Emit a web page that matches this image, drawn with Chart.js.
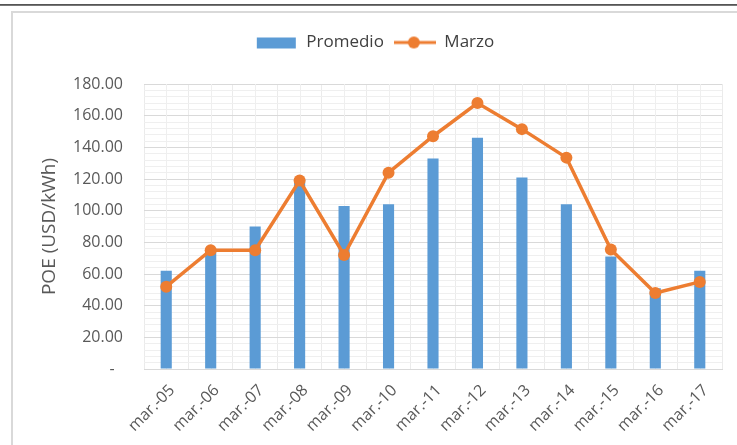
<!DOCTYPE html>
<html>
<head>
<meta charset="utf-8">
<script src="https://cdn.jsdelivr.net/npm/chart.js@4"></script>
<style>
  body { margin: 0; background: #fff; }
  #wrap { position: relative; width: 737px; height: 445px; overflow: hidden; }
  #topline { position: absolute; left: 0; top: 4px; width: 737px; height: 2px; background: linear-gradient(#444, #888); }
  #frame { position: absolute; left: 11px; top: 11px; width: 740px; height: 450px; border-left: 2px solid #d9d9d9; border-top: 2px solid #d9d9d9; }
  #poeChart { position: absolute; left: 0; top: 0; }
</style>
</head>
<body>
<div id="wrap">
  <div id="topline"></div>
  <div id="frame"></div>
  <canvas id="poeChart" width="737" height="445"></canvas>
</div>
<script>
// categorias (meses de marzo de cada año)
var categories = ['mar.-05','mar.-06','mar.-07','mar.-08','mar.-09','mar.-10','mar.-11','mar.-12','mar.-13','mar.-14','mar.-15','mar.-16','mar.-17']
// serie de barras
var promedio = [62, 75, 90, 120, 103, 104, 133, 146, 121, 104, 71, 51, 62]
// serie de linea
var marzo = [52, 75, 75, 119, 72, 124, 147, 168, 151.5, 133.5, 75.5, 48, 55]
// eje y
var yMin = 0
var yMax = 180
var yMajor = 20
var yMinor = 4

// simbolos de la leyenda
function legendGlyph(kind) {
  var c = document.createElement('canvas')
  c.width = 42
  c.height = 14
  var g = c.getContext('2d')
  if (kind === 'bar') {
    g.fillStyle = '#5b9bd5'
    g.fillRect(1, 2, 39, 11)
  } else {
    g.strokeStyle = '#ed7d31'
    g.lineWidth = 3
    g.beginPath()
    g.moveTo(0, 7)
    g.lineTo(42, 7)
    g.stroke()
    g.fillStyle = '#ed7d31'
    g.beginPath()
    g.arc(20, 7, 6, 0, Math.PI * 2)
    g.fill()
  }
  return c
}

// lineas verticales en el centro de cada categoria
var centerLines = {
  id: 'centerLines',
  beforeDatasetsDraw: function (chart) {
    var x = chart.scales.x
    var a = chart.chartArea
    var ctx = chart.ctx
    ctx.save()
    ctx.strokeStyle = '#efefef'
    ctx.lineWidth = 1
    for (var i = 0; i < categories.length; i++) {
      var px = Math.round(x.getPixelForValue(i)) + 0.5
      ctx.beginPath()
      ctx.moveTo(px, a.top)
      ctx.lineTo(px, a.bottom)
      ctx.stroke()
    }
    ctx.restore()
  }
}

// altura fija de la leyenda
var legendHeight = {
  id: 'legendHeight',
  beforeInit: function (chart) {
    var fit = chart.legend.fit
    chart.legend.fit = function () {
      fit.call(this)
      this.height = 60
    }
  }
}

var ctx = document.getElementById('poeChart').getContext('2d')

var poeChart = new Chart(ctx, {
  type: 'bar',
  data: {
    labels: categories,
    datasets: [
      {
        label: 'Promedio',
        data: promedio,
        backgroundColor: '#5b9bd5',
        barPercentage: 0.25,
        categoryPercentage: 1,
        order: 1
      },
      {
        type: 'line',
        label: 'Marzo',
        data: marzo,
        borderColor: '#ed7d31',
        backgroundColor: '#ed7d31',
        borderWidth: 3.5,
        pointRadius: 6,
        pointBorderWidth: 0,
        pointBackgroundColor: '#ed7d31',
        tension: 0,
        order: 0
      }
    ]
  },
  options: {
    responsive: false,
    animation: false,
    layout: { padding: { top: 24, left: 28, right: 15, bottom: 0 } },
    plugins: {
      tooltip: { enabled: false },
      legend: {
        position: 'top',
        labels: {
          usePointStyle: true,
          pointStyleWidth: 42,
          padding: 10,
          color: '#404040',
          font: { family: 'Open Sans', size: 17 },
          sort: function (a, b) { return a.datasetIndex - b.datasetIndex },
          generateLabels: function (chart) {
            var items = Chart.defaults.plugins.legend.labels.generateLabels(chart)
            items.forEach(function (it) {
              it.pointStyle = legendGlyph(it.datasetIndex === 0 ? 'bar' : 'line')
            })
            return items
          }
        }
      }
    },
    scales: {
      x: {
        offset: true,
        grid: { offset: true, color: '#ebebeb', drawTicks: false },
        border: { color: '#d9d9d9' },
        ticks: {
          autoSkip: false,
          minRotation: 45,
          maxRotation: 45,
          padding: 12,
          labelOffset: 6,
          color: '#595959',
          font: { family: 'Open Sans', size: 16 }
        },
        afterFit: function (s) { s.height = 76 }
      },
      y: {
        min: yMin,
        max: yMax,
        grid: {
          drawTicks: false,
          color: function (c) { return c.tick.value % yMajor === 0 ? '#d9d9d9' : '#efefef' }
        },
        border: { display: false },
        ticks: {
          stepSize: yMinor,
          autoSkip: false,
          padding: 21,
          color: '#595959',
          font: { family: 'Open Sans', size: 16 },
          callback: function (v) {
            if (v === 0) return '-  '
            return v % yMajor === 0 ? v.toFixed(2) : ''
          }
        },
        title: {
          display: true,
          text: 'POE (USD/kWh)',
          color: '#595959',
          font: { family: 'Open Sans', size: 19 },
          padding: { top: 10, bottom: 0 }
        },
        afterFit: function (s) { s.width = 116 }
      }
    }
  },
  plugins: [centerLines, legendHeight]
})
</script>
</body>
</html>
